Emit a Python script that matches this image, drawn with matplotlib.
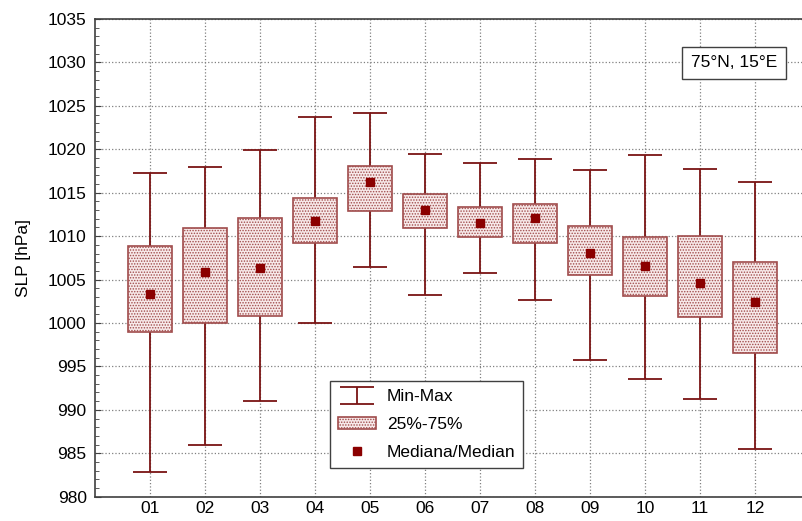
import numpy as np
import matplotlib.pyplot as plt
from matplotlib.ticker import MultipleLocator

plt.rcParams['font.family'] = ['Liberation Sans', 'DejaVu Sans']
plt.rcParams['hatch.linewidth'] = 0.7

# monthly SLP statistics, 75N 15E
months = ['01', '02', '03', '04', '05', '06', '07', '08', '09', '10', '11', '12']
slp_min = [982.9, 985.9, 991.0, 1000.0, 1006.5, 1003.2, 1005.8, 1002.7, 995.7, 993.5, 991.3, 985.5]
slp_q1 = [999.0, 1000.0, 1000.8, 1009.2, 1012.9, 1010.9, 1009.9, 1009.2, 1005.5, 1003.1, 1000.7, 996.6]
slp_med = [1003.3, 1005.9, 1006.3, 1011.7, 1016.2, 1013.0, 1011.5, 1012.1, 1008.1, 1006.6, 1004.6, 1002.4]
slp_q3 = [1008.9, 1010.9, 1012.1, 1014.4, 1018.1, 1014.9, 1013.4, 1013.7, 1011.2, 1009.9, 1010.0, 1007.0]
slp_max = [1017.3, 1018.0, 1019.9, 1023.7, 1024.2, 1019.5, 1018.4, 1018.9, 1017.6, 1019.3, 1017.7, 1016.2]

x = np.arange(1, len(months) + 1)
med = np.array(slp_med)
lo = med - np.array(slp_min)
hi = np.array(slp_max) - med

fig = plt.figure(figsize=(8.03, 5.21), dpi=100)
ax = fig.add_axes([0.1183, 0.0466, 0.8904, 0.9169])

eb = ax.errorbar(x, med, yerr=[lo, hi], fmt='none', ecolor='#7a1414',
                 elinewidth=1.3, capsize=12, capthick=1.3, zorder=2, label='Min-Max')
bx = ax.bar(x, np.array(slp_q3) - np.array(slp_q1), bottom=slp_q1, width=0.79,
            facecolor='#f7e9e9', edgecolor='#a04c4c', hatch='......', linewidth=1.2,
            zorder=3, label='25%-75%')
md, = ax.plot(x, med, 's', color='#8b0000', ms=6, ls='none', zorder=4,
              label='Mediana/Median')

ax.set_xlim(0, 13)
ax.set_ylim(980, 1035)
ax.set_xticks(x)
ax.set_xticklabels(months)
ax.yaxis.set_major_locator(MultipleLocator(5))
ax.yaxis.set_minor_locator(MultipleLocator(1))
ax.tick_params(axis='y', which='both', direction='in', labelsize=12.5, pad=6)
ax.tick_params(axis='y', which='minor', length=3, color='#404040')
ax.tick_params(axis='y', which='major', length=4, color='#404040')
ax.tick_params(axis='x', length=0, labelsize=12.5, pad=3)
ax.set_ylabel('SLP [hPa]', fontsize=12.5, labelpad=12)

ax.grid(True, which='major', color='#808080', linestyle=':', linewidth=0.9)
ax.set_axisbelow(True)
for s in ['left', 'bottom', 'top', 'right']:
    ax.spines[s].set_color('#404040')
    ax.spines[s].set_linewidth(1.2)

ax.text(0.954, 0.908, '75°N, 15°E', transform=ax.transAxes, fontsize=12.5,
        ha='right', va='center',
        bbox=dict(boxstyle='square,pad=0.5', facecolor='white',
                  edgecolor='#404040', linewidth=1))

leg = ax.legend([eb, bx, md], ['Min-Max', '25%-75%', 'Mediana/Median'],
                loc='lower left', bbox_to_anchor=(0.329, 0.061), borderaxespad=0,
                fontsize=12.5, frameon=True, fancybox=False, framealpha=1,
                borderpad=0.45, handlelength=2.2, handletextpad=0.6,
                labelspacing=0.72)
leg.get_frame().set_edgecolor('#404040')
leg.get_frame().set_linewidth(1)

fig.savefig('out.png', dpi=100)
